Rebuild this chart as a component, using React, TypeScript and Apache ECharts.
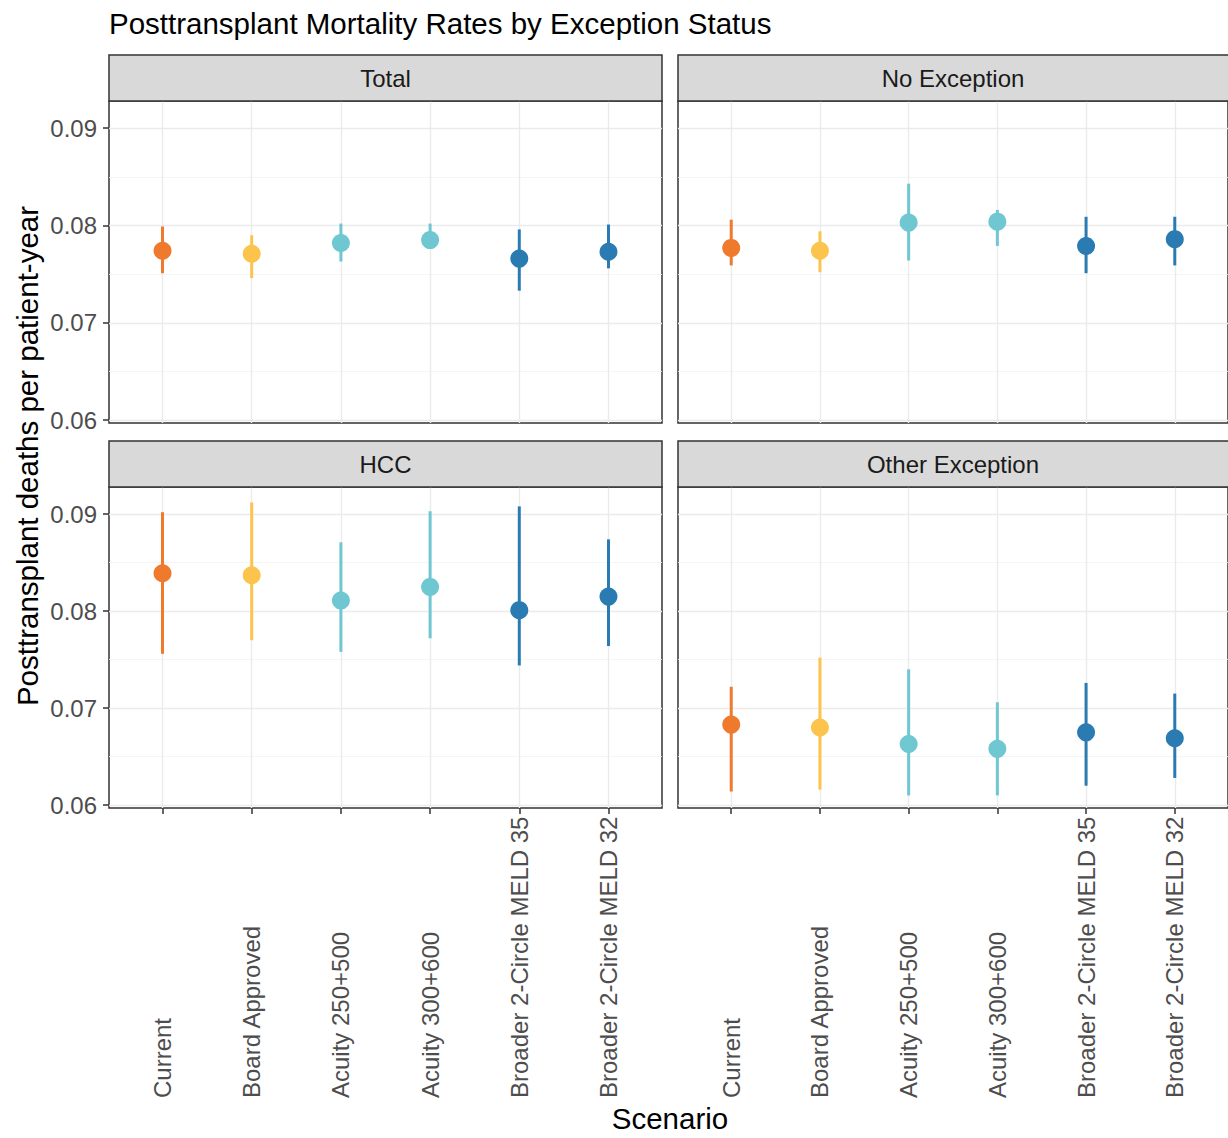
import React, { useEffect, useRef } from "react";
import * as echarts from "echarts";

const categories = [
  "Current",
  "Board Approved",
  "Acuity 250+500",
  "Acuity 300+600",
  "Broader 2-Circle MELD 35",
  "Broader 2-Circle MELD 32",
];
const scenarioColors = ["#EF7A2D", "#FCC34D", "#6FC7D1", "#6FC7D1", "#2A7BB2", "#2A7BB2"];
const panelNames = ["Total", "No Exception", "HCC", "Other Exception"];
const yTicks = [0.06, 0.07, 0.08, 0.09];

const totalRate = [0.0774, 0.0771, 0.0782, 0.0785, 0.0766, 0.0773];
const totalLower = [0.0751, 0.0746, 0.0763, 0.0776, 0.0733, 0.0756];
const totalUpper = [0.0799, 0.079, 0.0802, 0.0802, 0.0796, 0.0801];

const noExcRate = [0.0777, 0.0774, 0.0803, 0.0804, 0.0779, 0.0786];
const noExcLower = [0.0759, 0.0752, 0.0764, 0.0779, 0.0751, 0.0759];
const noExcUpper = [0.0806, 0.0794, 0.0843, 0.0816, 0.0809, 0.0809];

const hccRate = [0.0839, 0.0837, 0.0811, 0.0825, 0.0801, 0.0815];
const hccLower = [0.0756, 0.077, 0.0758, 0.0772, 0.0744, 0.0764];
const hccUpper = [0.0902, 0.0912, 0.0871, 0.0903, 0.0908, 0.0874];

const otherRate = [0.0683, 0.068, 0.0663, 0.0658, 0.0675, 0.0669];
const otherLower = [0.0614, 0.0616, 0.061, 0.061, 0.062, 0.0628];
const otherUpper = [0.0722, 0.0752, 0.074, 0.0706, 0.0726, 0.0715];

const panelRates = [totalRate, noExcRate, hccRate, otherRate];
const panelLowers = [totalLower, noExcLower, hccLower, otherLower];
const panelUppers = [totalUpper, noExcUpper, hccUpper, otherUpper];

const FONT = "Arial, 'Liberation Sans', sans-serif";

const layout = [
  { left: 109, top: 101, width: 553, height: 322 },
  { left: 678, top: 101, width: 555, height: 322 },
  { left: 109, top: 487, width: 553, height: 321 },
  { left: 678, top: 487, width: 555, height: 321 },
];
const STRIP_H = 46;

export default function App() {
  const ref = useRef<HTMLDivElement>(null);

  useEffect(() => {
    if (!ref.current) return;
    const chart = echarts.init(ref.current, undefined, { renderer: "svg" });
    const catIdx = categories.map((_, i) => i);

    const graphics: any[] = [];
    panelNames.forEach((name, i) => {
      const g = layout[i];
      graphics.push({
        type: "rect",
        shape: { x: g.left, y: g.top - STRIP_H, width: g.width, height: STRIP_H },
        style: { fill: "#D9D9D9", stroke: "#333333", lineWidth: 1.5 },
        z: 10,
      });
      graphics.push({
        type: "text",
        x: g.left + g.width / 2 - (i % 2 === 1 ? 2.5 : 0),
        y: g.top - STRIP_H / 2,
        style: {
          text: name,
          fontSize: 24,
          fontFamily: FONT,
          fill: "#1A1A1A",
          textAlign: "center",
          textVerticalAlign: "middle",
        },
        z: 11,
      });
    });
    graphics.push({
      type: "text",
      x: 109,
      y: 23,
      style: {
        text: "Posttransplant Mortality Rates by Exception Status",
        fontSize: 29.5,
        fontFamily: FONT,
        fill: "#000000",
        textAlign: "left",
        textVerticalAlign: "middle",
      },
    });
    graphics.push({
      type: "text",
      x: 670,
      y: 1118,
      style: {
        text: "Scenario",
        fontSize: 29.5,
        fontFamily: FONT,
        fill: "#000000",
        textAlign: "center",
        textVerticalAlign: "middle",
      },
    });
    graphics.push({
      type: "text",
      x: 27,
      y: 456,
      rotation: Math.PI / 2,
      style: {
        text: "Posttransplant deaths per patient-year",
        fontSize: 29.5,
        fontFamily: FONT,
        fill: "#000000",
        textAlign: "center",
        textVerticalAlign: "middle",
      },
    });

    const option: any = {
      animation: false,
      backgroundColor: "#ffffff",
      grid: layout.map((g) => ({
        left: g.left,
        top: g.top,
        width: g.width,
        height: g.height,
        show: true,
        borderColor: "#333333",
        borderWidth: 1.5,
        backgroundColor: "#ffffff",
        containLabel: false,
      })),
      xAxis: layout.map((_, i) => ({
        type: "value",
        gridIndex: i,
        position: "bottom",
        min: -0.6,
        max: 5.6,
        splitNumber: 6,
        axisLine: { show: false, onZero: false },
        axisTick: {
          show: i >= 2,
          length: 6,
          customValues: catIdx,
          lineStyle: { color: "#333333", width: 1.5 },
        },
        axisLabel: {
          show: i >= 2,
          rotate: 90,
          margin: 290,
          align: "left",
          verticalAlign: "middle",
          fontSize: 24,
          fontFamily: FONT,
          color: "#4D4D4D",
          customValues: catIdx,
          formatter: (v: number) => categories[Math.round(v)] ?? "",
        },
        splitLine: { show: true, lineStyle: { color: "#EBEBEB", width: 1.4 } },
      })),
      yAxis: layout.map((_, i) => ({
        type: "value",
        gridIndex: i,
        position: "left",
        min: 0.0597,
        max: 0.0928,
        splitNumber: 3,
        axisLine: { show: false, onZero: false },
        axisTick: {
          show: i % 2 === 0,
          length: 6,
          customValues: yTicks,
          lineStyle: { color: "#333333", width: 1.5 },
        },
        axisLabel: {
          show: i % 2 === 0,
          margin: 12,
          fontSize: 24,
          fontFamily: FONT,
          color: "#4D4D4D",
          customValues: yTicks,
          formatter: (v: number) => v.toFixed(2),
        },
        splitLine: { show: true, lineStyle: { color: "#EBEBEB", width: 1.4 } },
        minorTick: { show: false, splitNumber: 2 },
        minorSplitLine: { show: true, lineStyle: { color: "#F2F2F2", width: 0.8 } },
      })),
      graphic: graphics,
      series: panelNames.map((name, p) => ({
        type: "custom",
        name,
        xAxisIndex: p,
        yAxisIndex: p,
        encode: { x: 0, y: [1, 2, 3] },
        data: categories.map((_, c) => [c, panelLowers[p][c], panelUppers[p][c], panelRates[p][c]]),
        renderItem: (params: any, api: any) => {
          const c = api.value(0);
          const color = scenarioColors[c];
          const lo = api.coord([c, api.value(1)]);
          const hi = api.coord([c, api.value(2)]);
          const mid = api.coord([c, api.value(3)]);
          return {
            type: "group",
            children: [
              {
                type: "line",
                shape: { x1: lo[0], y1: lo[1], x2: hi[0], y2: hi[1] },
                style: { stroke: color, lineWidth: 3 },
              },
              {
                type: "circle",
                shape: { cx: mid[0], cy: mid[1], r: 9 },
                style: { fill: color },
              },
            ],
          };
        },
      })),
    };

    chart.setOption(option);
    return () => chart.dispose();
  }, []);

  return (
    <div
      ref={ref}
      style={{ position: "absolute", left: 0, top: 0, width: 1228, height: 1138 }}
    />
  );
}
